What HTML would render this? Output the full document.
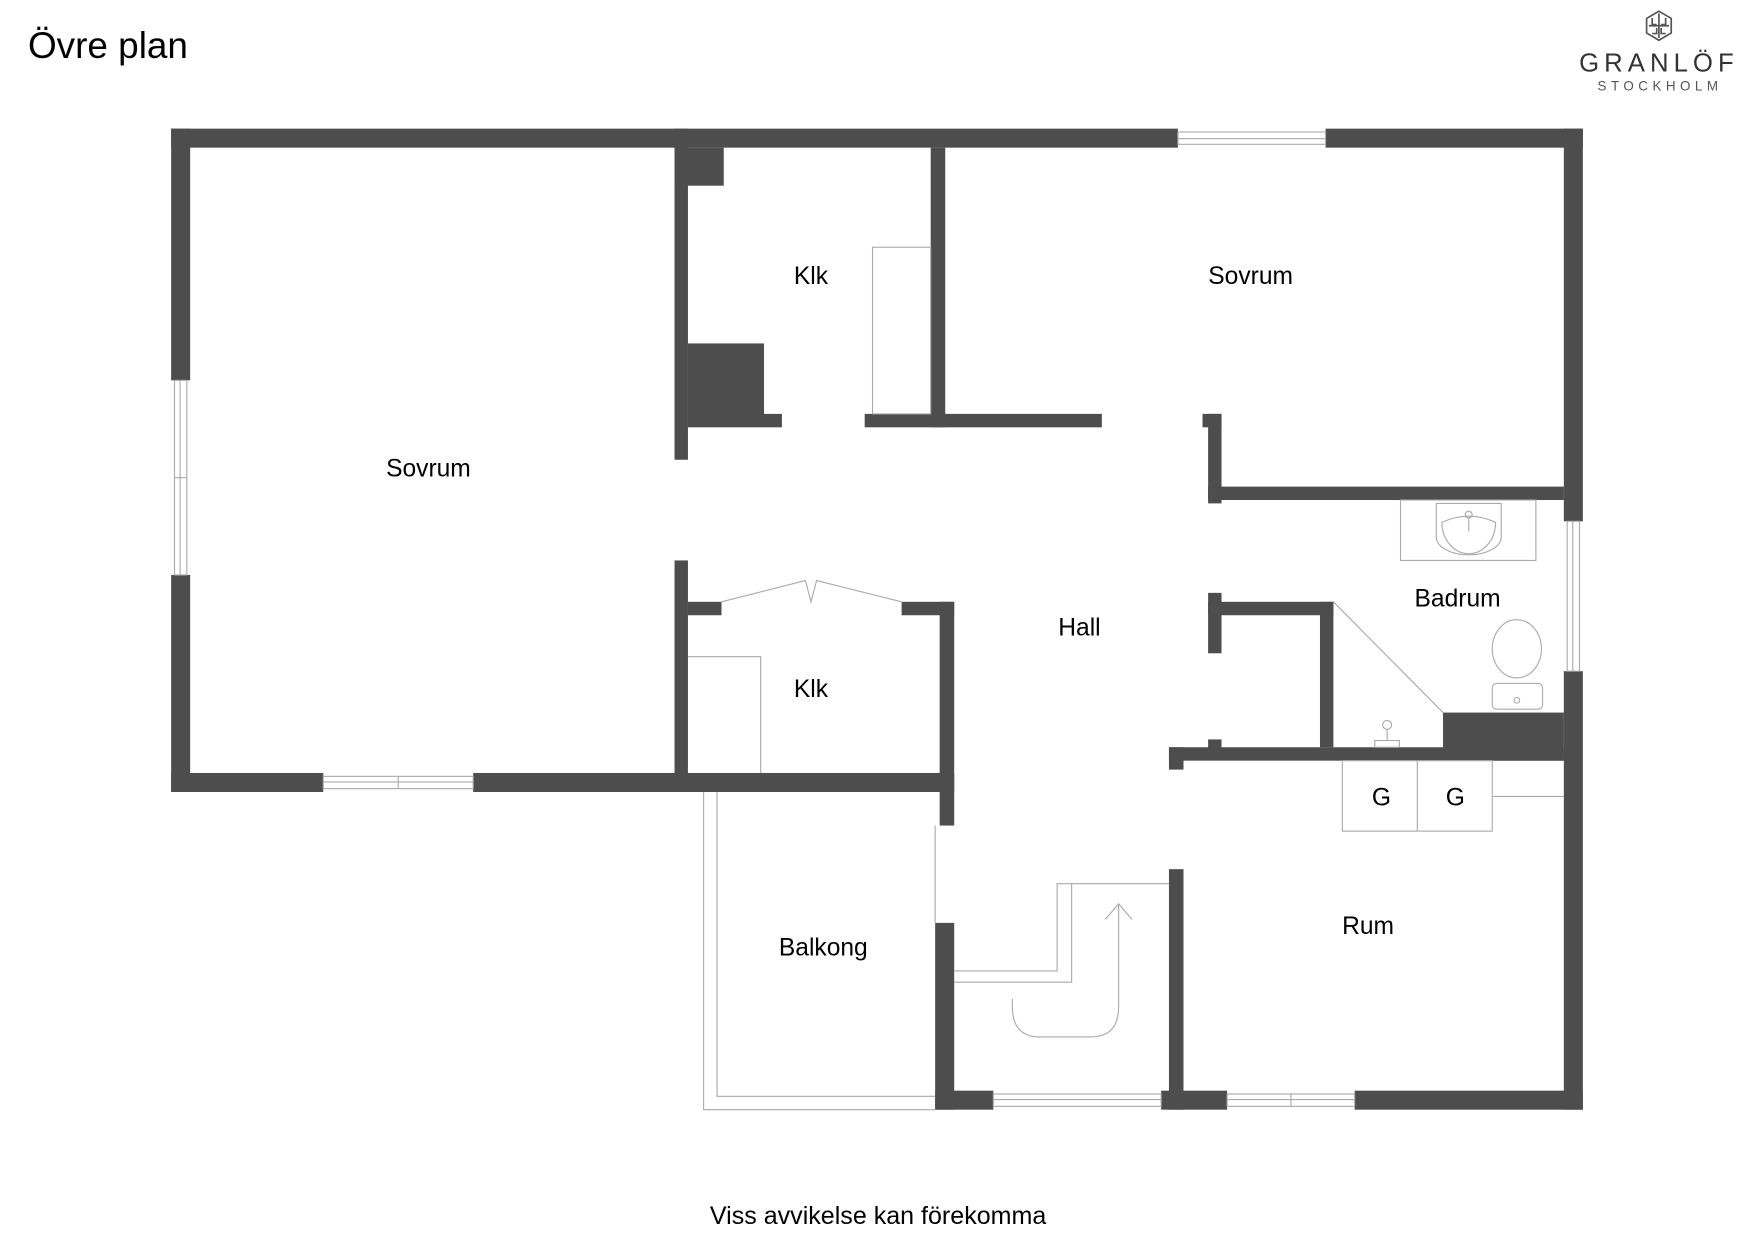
<!DOCTYPE html>
<html><head><meta charset="utf-8"><style>
html,body{margin:0;padding:0;background:#fff;}
svg{display:block;}
text{font-family:"Liberation Sans",Arial,sans-serif;fill:#000;}
</style></head><body>
<svg width="1754" height="1240" viewBox="0 0 1568 1108.5" xmlns="http://www.w3.org/2000/svg">
<rect width="1568" height="1108.5" fill="#fff"/>
<text x="25" y="52" font-size="33">Övre plan</text>
<!-- logo -->
<g transform="translate(1483,23)" fill="none" stroke="#555" stroke-width="1.5">
<polygon points="0,-13 11,-6.5 11,6.5 0,13 -11,6.5 -11,-6.5"/>
<path d="M-6,-7 v6 h4 M6,-7 v6 h-4 M-6,7 h4 v-5 M6,7 h-4 v-5 M0,-11 v22 M-9,0 h18"/>
</g>
<text x="1483" y="64" font-size="23" text-anchor="middle" letter-spacing="4.5" style="fill:#333">GRANLÖF</text>
<text x="1484" y="81" font-size="12" text-anchor="middle" letter-spacing="4" style="fill:#555">STOCKHOLM</text>

<g fill="#4d4d4d">
<rect x="153" y="115" width="900" height="17"/>
<rect x="1185" y="115" width="230" height="17"/>
<rect x="153" y="115" width="17" height="225"/>
<rect x="153" y="514" width="17" height="194"/>
<rect x="153" y="691" width="136" height="17"/>
<rect x="423" y="691" width="430" height="17"/>
<rect x="1398" y="115" width="17" height="351"/>
<rect x="1398" y="600" width="17" height="392"/>
<rect x="836" y="975" width="52" height="17"/>
<rect x="1038" y="975" width="59" height="17"/>
<rect x="1211" y="975" width="204" height="17"/>
<rect x="836" y="825" width="17" height="167"/>
<rect x="840" y="538" width="13" height="200"/>
<rect x="603" y="115" width="12" height="296"/>
<rect x="603" y="132" width="44" height="34"/>
<rect x="615" y="307" width="68" height="71"/>
<rect x="615" y="370" width="84" height="12"/>
<rect x="832" y="132" width="13" height="250"/>
<rect x="773" y="370" width="212" height="12"/>
<rect x="603" y="501" width="12" height="207"/>
<rect x="615" y="538" width="30" height="12"/>
<rect x="806" y="538" width="47" height="12"/>
<rect x="1075" y="370" width="17" height="12"/>
<rect x="1080" y="370" width="12" height="80"/>
<rect x="1080" y="435" width="318" height="12"/>
<rect x="1080" y="530" width="12" height="54"/>
<rect x="1080" y="538" width="112" height="12"/>
<rect x="1180" y="538" width="12" height="130"/>
<rect x="1045" y="668" width="353" height="12"/>
<rect x="1045" y="668" width="13" height="20"/>
<rect x="1080" y="661" width="12" height="8"/>
<rect x="1290" y="637" width="108" height="43"/>
<rect x="1045" y="777" width="13" height="215"/>
</g>

<g fill="none" stroke="#aaa" stroke-width="1">
<rect x="1053" y="118" width="132" height="11"/><line x1="1053" y1="124" x2="1185" y2="124"/>
<rect x="156" y="340" width="11" height="174"/><line x1="161" y1="340" x2="161" y2="514"/><line x1="156" y1="427" x2="167" y2="427"/>
<rect x="289" y="694" width="134" height="11"/><line x1="289" y1="699" x2="423" y2="699"/><line x1="356" y1="694" x2="356" y2="705"/>
<rect x="1401" y="466" width="11" height="134"/><line x1="1406" y1="466" x2="1406" y2="600"/>
<rect x="888" y="978" width="150" height="11"/><line x1="888" y1="983" x2="1038" y2="983"/>
<rect x="1097" y="978" width="114" height="11"/><line x1="1097" y1="983" x2="1211" y2="983"/><line x1="1154" y1="978" x2="1154" y2="989"/>
<rect x="780" y="221" width="52" height="149"/>
<polyline points="615,587 680,587 680,691"/>
<polyline points="645,538 720,519 725,538 730,519 806,538"/>
<polyline points="629,708 629,992 836,992"/>
<polyline points="641,708 641,980 836,980"/>
<line x1="836" y1="738" x2="836" y2="825"/>
<polyline points="853,868 945,868 945,790 1045,790"/>
<polyline points="853,878 958,878 958,790"/>
<path d="M1000,808 V900 Q1000,927 975,927 H930 Q905,927 905,900 V893"/>
<polyline points="988,822 1000,808 1012,822"/>
<line x1="1192" y1="538" x2="1290" y2="637"/>
<rect x="1252" y="447" width="121" height="54"/>
<path d="M1284,450 H1342 V480 A29,16 0 0 1 1284,480 Z"/>
<path d="M1289,467 Q1313,456 1337,467 A24,28 0 0 1 1289,467 Z"/>
<circle cx="1313" cy="460" r="3"/><line x1="1313" y1="463" x2="1313" y2="475"/>
<ellipse cx="1356" cy="580" rx="22" ry="26"/>
<rect x="1334" y="611" width="45" height="23" rx="4"/>
<circle cx="1356" cy="626" r="2.5"/>
<circle cx="1240" cy="648" r="4"/><line x1="1240" y1="652" x2="1240" y2="662"/><rect x="1229" y="662" width="22" height="6"/>
<rect x="1200" y="680" width="134" height="63"/>
<line x1="1267" y1="680" x2="1267" y2="743"/>
<line x1="1334" y1="712" x2="1398" y2="712"/>
</g>

<g font-size="22" text-anchor="middle">
<text x="383" y="426">Sovrum</text>
<text x="725" y="254">Klk</text>
<text x="1118" y="254">Sovrum</text>
<text x="725" y="623">Klk</text>
<text x="965" y="568">Hall</text>
<text x="1303" y="542">Badrum</text>
<text x="1235" y="720">G</text>
<text x="1301" y="720">G</text>
<text x="736" y="854">Balkong</text>
<text x="1223" y="835">Rum</text>
<text x="785" y="1094" font-size="22.4">Viss avvikelse kan förekomma</text>
</g>
</svg>
</body></html>
